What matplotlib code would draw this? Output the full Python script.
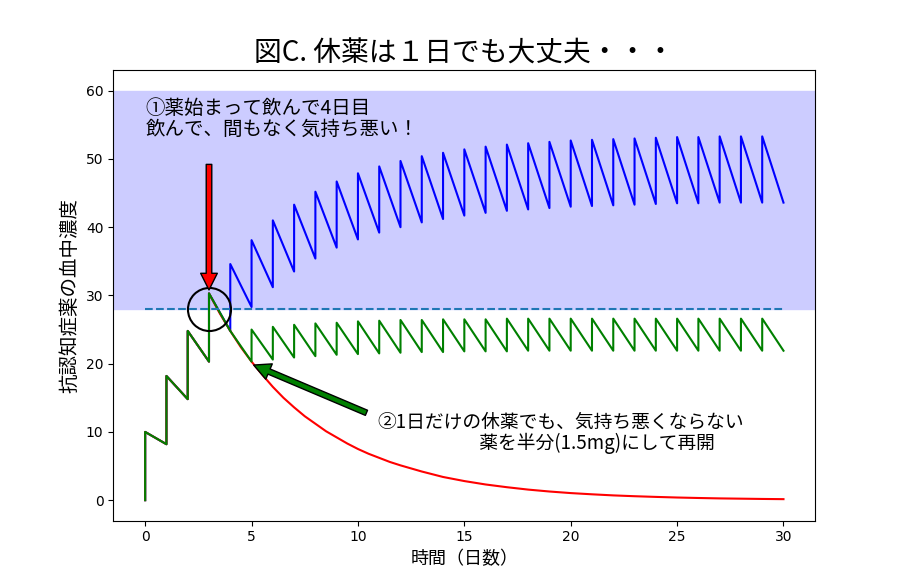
import numpy as np
import matplotlib.pyplot as plt

# === Data ===
# daily values: trough = level just before the dose on that day, peak = level just after
days = list(range(0, 31))

blue_trough = [0.0, 8.2, 14.8, 20.3, 24.8, 28.3, 31.2, 33.5, 35.4, 37.0, 38.2,
               39.2, 40.0, 40.7, 41.2, 41.7, 42.1, 42.4, 42.6, 42.8, 43.0,
               43.1, 43.2, 43.3, 43.4, 43.5, 43.5, 43.6, 43.6, 43.6, 43.6]
blue_peak = [10.0, 18.2, 24.8, 30.3, 34.6, 38.1, 41.0, 43.3, 45.2, 46.7, 47.9,
             48.9, 49.7, 50.4, 50.9, 51.4, 51.8, 52.1, 52.3, 52.5, 52.7,
             52.8, 52.9, 53.0, 53.1, 53.2, 53.2, 53.3, 53.3, 53.3, None]

# stopped after day 3 (half-day readings where the curve bends most)
red_days = [3, 3.5, 4, 4.5, 5, 5.5, 6, 6.5, 7, 7.5, 8, 8.5, 9, 9.5, 10, 10.5,
            11, 11.5, 12, 13, 14, 15, 16, 17, 18, 19, 20, 21, 22, 23, 24, 25,
            26, 27, 28, 29, 30]
red_level = [30.3, 27.4, 24.8, 22.4, 20.3, 18.4, 16.6, 15.0, 13.6, 12.3, 11.2,
             10.1, 9.2, 8.3, 7.5, 6.8, 6.2, 5.6, 5.1, 4.2, 3.4, 2.8, 2.3, 1.9,
             1.55, 1.27, 1.04, 0.86, 0.70, 0.58, 0.48, 0.39, 0.32, 0.26, 0.22,
             0.18, 0.15]

# skipped day 4, restarted with half dose on day 5
green_trough = [0.0, 8.2, 14.8, 20.3, 24.8, 20.3, 20.6, 20.9, 21.1, 21.3, 21.4,
                21.5, 21.6, 21.7, 21.7, 21.8, 21.8, 21.8, 21.9, 21.9, 21.9,
                21.9, 21.9, 21.9, 21.9, 21.9, 21.9, 21.9, 21.9, 21.9, 21.9]
green_peak = [10.0, 18.2, 24.8, 30.3, None, 25.0, 25.4, 25.7, 25.9, 26.0, 26.2,
              26.3, 26.4, 26.4, 26.5, 26.5, 26.5, 26.6, 26.6, 26.6, 26.6,
              26.6, 26.6, 26.6, 26.6, 26.6, 26.6, 26.6, 26.6, 26.6, None]

threshold = 28
band_top = 60


def sawtooth(d, trough, peak):
    xs, ys = [], []
    for t, lo, hi in zip(d, trough, peak):
        xs.append(t)
        ys.append(lo)
        if hi is not None:
            xs.append(t)
            ys.append(hi)
    return xs, ys


jp = ['Noto Sans CJK JP', 'DejaVu Sans']

fig, ax = plt.subplots(figsize=(9.06, 5.85), dpi=100)

ax.axhspan(threshold, band_top, color='#ccccff', zorder=0)

bx, by = sawtooth(days, blue_trough, blue_peak)
ax.plot(bx, by, color='blue')

# red shares the first four doses with the others, then decays
ex, ey = sawtooth(days[:4], blue_trough[:4], blue_peak[:4])
ax.plot(ex + red_days[1:], ey + red_level[1:], color='red')

gx, gy = sawtooth(days, green_trough, green_peak)
ax.plot(gx, gy, color='green')

ax.hlines(threshold, days[0], days[-1], linestyles='--', color='tab:blue')
ax.plot([3], [threshold], marker='o', markersize=31, fillstyle='none',
        color='black', markeredgewidth=1.5)

ax.annotate('', xy=(3, 30.8), xytext=(3, 49.2),
            arrowprops=dict(facecolor='red', edgecolor='black', shrink=0))
ax.text(0, 59.0, '①薬始まって飲んで4日目\n飲んで、間もなく気持ち悪い！',
        fontsize=14, family=jp, va='top', ha='left', linespacing=1.0)

ax.annotate('', xy=(5.1, 19.8), xytext=(10.4, 12.8),
            arrowprops=dict(facecolor='green', edgecolor='black', shrink=0))
ax.text(10.9, 12.9, '②1日だけの休薬でも、気持ち悪くならない\n　　　　　  薬を半分(1.5mg)にして再開',
        fontsize=13.5, family=jp, va='top', ha='left', linespacing=1.0)

ax.set_title('図C. 休薬は１日でも大丈夫・・・', fontsize=20, family=jp)
ax.set_xlabel('時間（日数）', fontsize=13, family=jp)
ax.set_ylabel('抗認知症薬の血中濃度', fontsize=14, family=jp)

ax.set_xticks(np.arange(0, 31, 5))
ax.set_yticks(np.arange(0, 61, 10))
ax.set_ylim(-3, 63)

plt.savefig('out.png', dpi=100)
